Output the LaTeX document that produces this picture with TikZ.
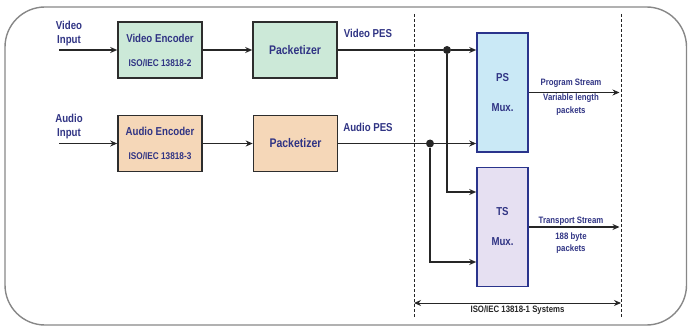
\documentclass[tikz,border=0pt]{standalone}
\usepackage{fontspec}
\newfontfamily\condsf[FakeStretch=0.84]{Liberation Sans}
\usetikzlibrary{arrows.meta}
\definecolor{txtblue}{RGB}{48,52,132}
\definecolor{vidfill}{RGB}{204,233,216}
\definecolor{audfill}{RGB}{245,215,184}
\definecolor{psfill}{RGB}{202,233,246}
\definecolor{tsfill}{RGB}{230,224,242}
\definecolor{boxline}{RGB}{45,45,45}
\definecolor{muxline}{RGB}{42,52,140}
\definecolor{framegray}{RGB}{135,135,135}
\begin{document}
\begin{tikzpicture}[
          x=1pt,
          y=-1pt,
          blk/.style={draw=boxline, line width=1.6pt, minimum width=84pt, minimum height=56pt, inner sep=0pt, align=center, text=txtblue, font=\condsf\bfseries\fontsize{11.5}{13}\selectfont},
          mux/.style={draw=muxline, line width=1.6pt, minimum width=51pt, minimum height=119pt, inner sep=0pt, align=center, text=txtblue, font=\condsf\bfseries\fontsize{11.5}{13}\selectfont},
          lbl/.style={text=txtblue, align=center, inner sep=0pt, font=\condsf\bfseries\fontsize{11.5}{14}\selectfont},
          sml/.style={text=txtblue, align=center, inner sep=0pt, font=\condsf\bfseries\fontsize{9.3}{12.5}\selectfont},
          arr/.style={-{Stealth[length=7pt, width=6pt]}, line width=1.3pt, black!85},
          nd/.style={circle, fill=black!85, inner sep=0pt, minimum size=8pt},
          sys/.style={dash pattern=on 3pt off 2pt, line width=0.8pt, black!85},
        ]
      \useasboundingbox (0, 0) rectangle (688, 326);
      \draw[framegray, line width=1.4pt, rounded corners=40pt] (5, 7) rectangle (686.5, 325);
      % system boundary
      \coordinate (sysl) at (414, 14);
      \coordinate (sysr) at (621, 14);
      \draw[sys] (sysl) -- (414, 318);
      \draw[sys] (sysr) -- (621, 318);
      % video row
      \node[blk, fill=vidfill] (venc) at (160, 50) {Video Encoder\\[11pt]{\fontsize{9.8}{10}\selectfont ISO/IEC 13818-2}};
      \node[blk, fill=vidfill, font=\condsf\bfseries\fontsize{12.5}{14}\selectfont] (vpkt) at (295, 50) {Packetizer};
      \node[lbl] (vinlbl) at (69, 33.5) {Video\\Input};
      \coordinate (vin) at (59, 50);
      \node[lbl] (vpes) at (368, 33) {Video PES};
      % audio row
      \node[blk, fill=audfill] (aenc) at (160, 143.5) {Audio Encoder\\[11pt]{\fontsize{9.8}{10}\selectfont ISO/IEC 13818-3}};
      \node[blk, fill=audfill, font=\condsf\bfseries\fontsize{12.5}{14}\selectfont] (apkt) at (295.5, 143.5) {Packetizer};
      \node[lbl] (ainlbl) at (69, 127) {Audio\\Input};
      \coordinate (ain) at (59, 143.5);
      \node[lbl] (apes) at (368, 127) {Audio PES};
      % multiplexers
      \node[mux, fill=psfill] (psmux) at (502.5, 92.5) {PS\\[17pt]Mux.};
      \node[mux, fill=tsfill] (tsmux) at (502.5, 227) {TS\\[17pt]Mux.};
      \node[nd] (vdot) at (447, 50) {};
      \node[nd] (adot) at (430, 143.5) {};
      \draw[arr] (vin) -- (venc);
      \draw[arr] (venc) -- (vpkt);
      \draw[arr] (ain) -- (aenc);
      \draw[arr] (aenc) -- (apkt);
      \draw[line width=1.3pt, black!85] (vpkt.east) -- (vdot);
      \draw[line width=1.3pt, black!85] (apkt.east) -- (adot);
      \draw[arr] (vdot) -- (vdot -| psmux.west);
      \draw[arr] (adot) -- (adot -| psmux.west);
      \draw[arr, line width=1.6pt] (vdot) |- ([yshift=35pt]tsmux.west);
      \draw[arr, line width=1.6pt] (adot) |- ([yshift=-35pt]tsmux.west);
      % outputs
      \draw[arr] (psmux.east) -- ([xshift=-1.5pt]psmux.east -| sysr);
      \draw[arr] (tsmux.east) -- ([xshift=-1.5pt]tsmux.east -| sysr);
      \node[sml] (pslbl) at (571, 83) {Program Stream};
      \node[sml] (psinfo) at (571, 104.5) {Variable length\\packets};
      \node[sml] (tslbl) at (571, 221) {Transport Stream};
      \node[sml] (tsinfo) at (571, 243) {188 byte\\packets};
      % span of the systems part
      \draw[{Stealth[length=7pt, width=6pt]}-{Stealth[length=7pt, width=6pt]}, line width=1pt, black!85] (sysl |- 0, 303) -- (sysr |- 0, 303);
      \node[sml, text=black!85] (syslbl) at (517.5, 310) {ISO/IEC 13818-1 Systems};
    \end{tikzpicture}
\end{document}
